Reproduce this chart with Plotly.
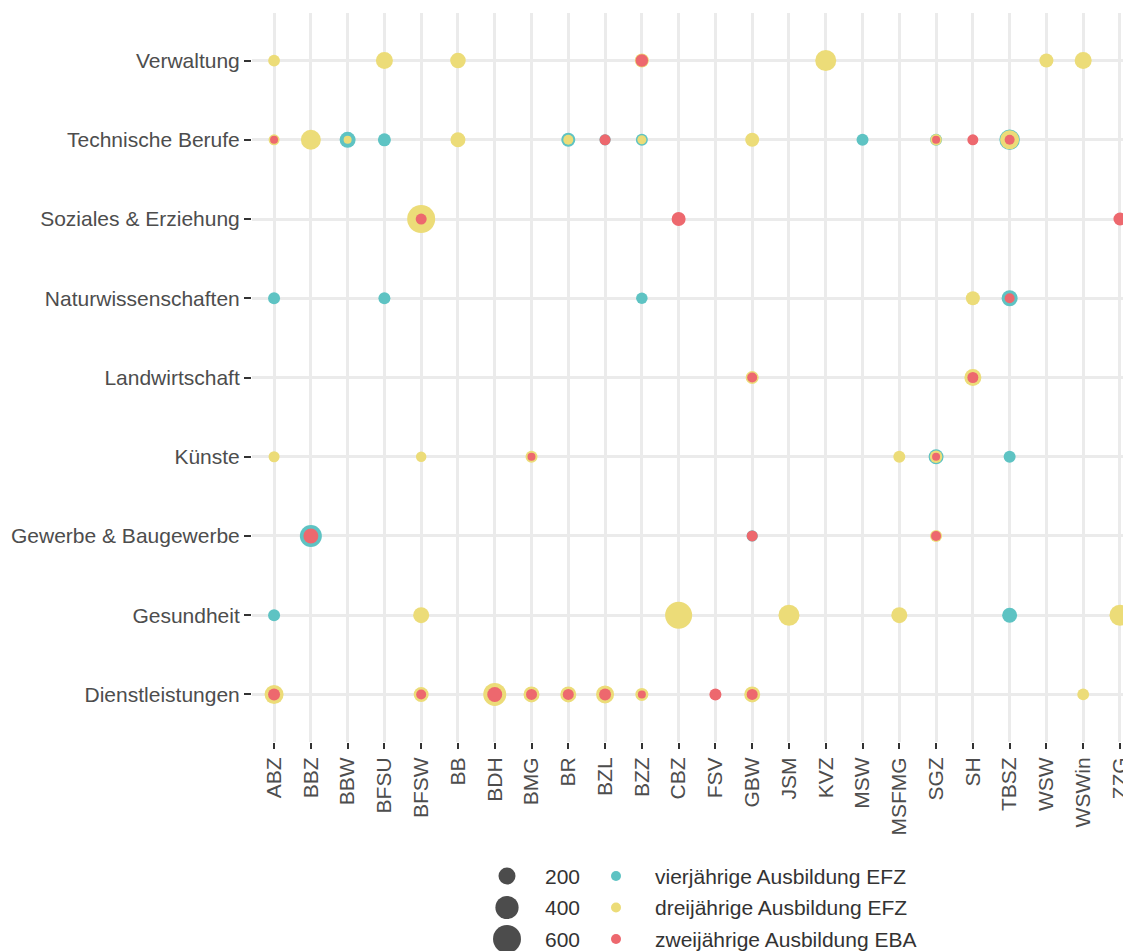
import numpy as np
import plotly.graph_objects as go

# ---------------- data ----------------
schulen = ["ABZ", "BBZ", "BBW", "BFSU", "BFSW", "BB", "BDH", "BMG", "BR", "BZL", "BZZ", "CBZ",
           "FSV", "GBW", "JSM", "KVZ", "MSW", "MSFMG", "SGZ", "SH", "TBSZ", "WSW", "WSWin", "ZZG"]
bereiche = ["Dienstleistungen", "Gesundheit", "Gewerbe & Baugewerbe", "Künste", "Landwirtschaft",
            "Naturwissenschaften", "Soziales & Erziehung", "Technische Berufe", "Verwaltung"]

# vierjährige Ausbildung EFZ
vier_schule = ["BBW", "BFSU", "BR", "BZL", "BZZ", "MSW", "SGZ", "TBSZ",
               "ABZ", "BFSU", "BZZ", "TBSZ",
               "SGZ", "TBSZ",
               "BBZ", "GBW",
               "ABZ", "TBSZ"]
vier_bereich = ["Technische Berufe"] * 8 + ["Naturwissenschaften"] * 4 + ["Künste"] * 2 + \
               ["Gewerbe & Baugewerbe"] * 2 + ["Gesundheit"] * 2
vier_anzahl = [174, 108, 128, 76, 89, 89, 89, 304,
               89, 89, 80, 174,
               150, 89,
               356, 76,
               89, 150]

# dreijährige Ausbildung EFZ
drei_schule = ["ABZ", "BFSU", "BB", "BZZ", "KVZ", "WSW", "WSWin",
               "ABZ", "BBZ", "BBW", "BB", "BR", "BZZ", "GBW", "SGZ", "TBSZ",
               "BFSW",
               "SH",
               "GBW", "SH",
               "ABZ", "BFSW", "BMG", "MSFMG", "SGZ",
               "SGZ",
               "BFSW", "CBZ", "JSM", "MSFMG", "ZZG",
               "ABZ", "BFSW", "BDH", "BMG", "BR", "BZL", "BZZ", "GBW", "WSWin"]
drei_bereich = ["Verwaltung"] * 7 + ["Technische Berufe"] * 9 + ["Soziales & Erziehung"] + \
               ["Naturwissenschaften"] + ["Landwirtschaft"] * 2 + ["Künste"] * 5 + \
               ["Gewerbe & Baugewerbe"] + ["Gesundheit"] * 5 + ["Dienstleistungen"] * 9
drei_anzahl = [85, 200, 162, 128, 321, 128, 200,
               72, 288, 32, 150, 57, 44, 128, 80, 257,
               602,
               128,
               108, 200,
               72, 64, 89, 89, 98,
               89,
               174, 556, 321, 174, 321,
               257, 150, 392, 174, 174, 228, 108, 174, 85]

# zweijährige Ausbildung EBA
zwei_schule = ["BZZ",
               "ABZ", "BZL", "SGZ", "SH", "TBSZ",
               "BFSW", "CBZ", "ZZG",
               "TBSZ",
               "GBW", "SH",
               "BMG", "SGZ",
               "BBZ", "GBW", "SGZ",
               "ABZ", "BFSW", "BDH", "BMG", "BR", "BZL", "BZZ", "FSV", "GBW"]
zwei_bereich = ["Verwaltung"] + ["Technische Berufe"] * 5 + ["Soziales & Erziehung"] * 3 + \
               ["Naturwissenschaften"] + ["Landwirtschaft"] * 2 + ["Künste"] * 2 + \
               ["Gewerbe & Baugewerbe"] * 3 + ["Dienstleistungen"] * 9
zwei_anzahl = [98,
               32, 72, 32, 72, 57,
               72, 128, 108,
               57,
               57, 72,
               32, 32,
               150, 72, 57,
               89, 57, 150, 72, 72, 89, 32, 89, 72]

groessen_breaks = [200, 400, 600]
serien_namen = ["vierjährige Ausbildung EFZ", "dreijährige Ausbildung EFZ", "zweijährige Ausbildung EBA"]

# ---------------- style ----------------
FARBEN = ["#5EC3C3", "#ECDC78", "#ED686E"]
FONT = "Liberation Sans, Arial, sans-serif"
AXIS_TXT = "#4D4D4D"
GRID = "#EBEBEB"
FS = 21


def size_px(v):
    return 2 + 1.06 * np.sqrt(np.asarray(v, dtype=float))


fig = go.Figure()

serien = [(vier_schule, vier_bereich, vier_anzahl),
          (drei_schule, drei_bereich, drei_anzahl),
          (zwei_schule, zwei_bereich, zwei_anzahl)]
for (sx, sy, sv), farbe, name in zip(serien, FARBEN, serien_namen):
    fig.add_trace(go.Scatter(
        x=sx, y=sy, mode="markers", name=name, showlegend=False,
        marker=dict(size=size_px(sv), color=farbe, line=dict(width=0), opacity=1),
        xaxis="x", yaxis="y",
        hovertemplate="%{x}<br>%{y}<br>" + name + ": %{customdata}<extra></extra>",
        customdata=sv,
    ))

# ---------------- manual legend (aux axes in pixel-like units) ----------------
LEG_SIZE_X = 499
LEG_SIZE_TXT_X = 535
LEG_COL_X = 608
LEG_COL_TXT_X = 645
rows = [0, 1, 2]

fig.add_trace(go.Scatter(
    x=[LEG_SIZE_X] * 3, y=rows, mode="markers", showlegend=False, hoverinfo="skip",
    marker=dict(size=size_px(groessen_breaks), color="#000000", line=dict(width=0)),
    xaxis="x2", yaxis="y2"))
fig.add_trace(go.Scatter(
    x=[LEG_COL_X] * 3, y=rows, mode="markers", showlegend=False, hoverinfo="skip",
    marker=dict(size=10, color=FARBEN, line=dict(width=0)),
    xaxis="x2", yaxis="y2"))

annotations = []
for r, b in zip(rows, groessen_breaks):
    annotations.append(dict(x=LEG_SIZE_TXT_X, y=r, xref="x2", yref="y2", text=str(b),
                            showarrow=False, xanchor="left", yanchor="middle",
                            font=dict(family=FONT, size=FS, color="#333333")))
for r, n in zip(rows, serien_namen):
    annotations.append(dict(x=LEG_COL_TXT_X, y=r, xref="x2", yref="y2", text=n,
                            showarrow=False, xanchor="left", yanchor="middle",
                            font=dict(family=FONT, size=FS, color="#333333")))

# page body has an 8px margin, so figure coords = window coords - 8
W, H = 1123, 943
ML, MR, MT, MB = 244, 0, 5, 0
plot_h = H - MT - MB
main_bottom = (H - MB - 734) / plot_h
leg_top_px = 852
leg_top = (H - MB - leg_top_px) / plot_h
row_step = 31.5
y2_top = -(868 - leg_top_px) / row_step
y2_bot = y2_top + (H - MB - leg_top_px) / row_step

fig.update_layout(
    width=W, height=H,
    margin=dict(l=ML, r=MR, t=MT, b=MB, pad=0),
    paper_bgcolor="white", plot_bgcolor="white",
    font=dict(family=FONT, size=FS, color=AXIS_TXT),
    showlegend=False,
    annotations=annotations,
    xaxis=dict(
        type="category", categoryorder="array", categoryarray=schulen,
        range=[-0.6, 23.3], domain=[0, 1], anchor="y",
        showgrid=True, gridcolor=GRID, gridwidth=2.5,
        showline=False, zeroline=False,
        ticks="outside", ticklen=6, tickwidth=1.5, tickcolor="#333333",
        tickangle=-90, tickfont=dict(family=FONT, size=FS, color=AXIS_TXT),
    ),
    yaxis=dict(
        type="category", categoryorder="array", categoryarray=bereiche,
        range=[-0.6, 8.6], domain=[main_bottom, 1], anchor="x",
        showgrid=True, gridcolor=GRID, gridwidth=2.5,
        showline=False, zeroline=False,
        ticks="outside", ticklen=7, tickwidth=1.5, tickcolor="#333333",
        tickfont=dict(family=FONT, size=FS, color=AXIS_TXT),
    ),
    xaxis2=dict(range=[ML, W - MR], domain=[0, 1], anchor="y2", visible=False, fixedrange=True),
    yaxis2=dict(range=[y2_bot, y2_top], domain=[0, leg_top], anchor="x2", visible=False, fixedrange=True),
)

fig.write_html("out.html")
